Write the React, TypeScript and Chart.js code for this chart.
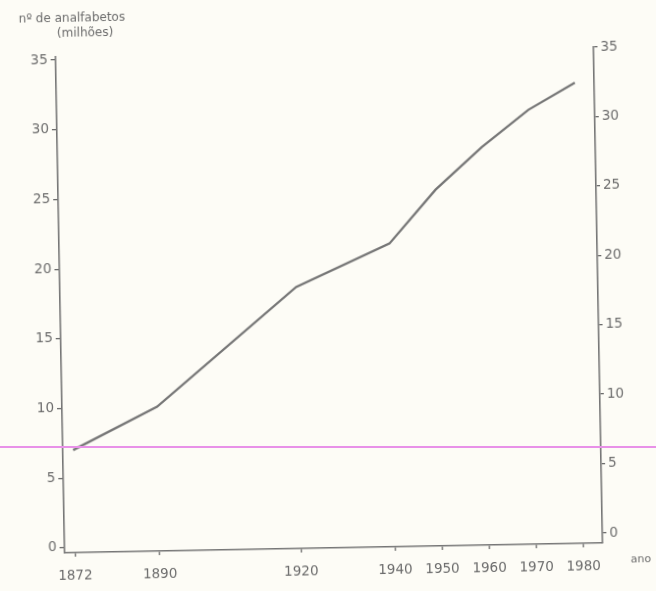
import { useEffect, useRef } from 'react';
import { Chart, registerables } from 'chart.js';

Chart.register(...registerables);

const years = [1872, 1890, 1920, 1940, 1950, 1960, 1970, 1980];
const illiterates = [7.0, 10.0, 18.4, 21.4, 25.2, 28.2, 30.8, 32.7];
const yTicks = [0, 5, 10, 15, 20, 25, 30, 35];
const titleLines = ['nº de analfabetos', '(milhões)'];
const xAxisName = 'ano';

const ink = '#6c6c6c';
const lineInk = '#767676';
const tickFont = { family: '"DejaVu Sans", sans-serif', size: 13.5 };

const textPlugin = {
  id: 'scanText',
  afterDraw(chart: any) {
    const ctx = chart.ctx;
    ctx.save();
    ctx.fillStyle = ink;
    ctx.textAlign = 'center';
    ctx.textBaseline = 'middle';
    ctx.font = '12px "DejaVu Sans", sans-serif';
    ctx.fillText(titleLines[0], 77, 14);
    ctx.fillText(titleLines[1], 90, 29);
    ctx.font = '11px "DejaVu Sans", sans-serif';
    ctx.fillText(xAxisName, 636, 565);
    ctx.restore();
  },
};

export default function App() {
  const ref = useRef<HTMLCanvasElement>(null);

  useEffect(() => {
    const setTicks = (list: number[]) => (s: any) => {
      s.ticks = list.map((v) => ({ value: v }));
    };
    const chart = new Chart(ref.current!, {
      type: 'line',
      data: {
        datasets: [
          {
            data: years.map((y, i) => ({ x: y, y: illiterates[i] })),
            borderColor: lineInk,
            borderWidth: 2.3,
            pointRadius: 0,
            tension: 0,
            yAxisID: 'y',
          },
        ],
      },
      options: {
        animation: false,
        responsive: true,
        maintainAspectRatio: false,
        layout: { padding: { top: 52, left: 0, right: 0, bottom: 0 } },
        plugins: {
          legend: { display: false },
          tooltip: { enabled: false },
          title: { display: false },
        },
        scales: {
          x: {
            type: 'linear',
            min: 1869.8,
            max: 1984.1,
            afterBuildTicks: setTicks(years),
            afterFit: (s: any) => {
              s.height = 43;
            },
            ticks: {
              callback: (v: any) => String(v),
              font: tickFont,
              color: ink,
              padding: 11,
              autoSkip: false,
              maxRotation: 0,
            },
            grid: { drawOnChartArea: false, tickLength: 4, color: ink, lineWidth: 1.3 },
            border: { color: lineInk, width: 1.6 },
          },
          y: {
            position: 'left',
            min: -0.36,
            max: 35.22,
            afterBuildTicks: setTicks(yTicks),
            afterFit: (s: any) => {
              s.width = 60;
            },
            ticks: { font: tickFont, color: ink, padding: 3, callback: (v: any) => String(v) },
            grid: { drawOnChartArea: false, tickLength: 5, color: ink, lineWidth: 1.3 },
            border: { color: lineInk, width: 1.6 },
          },
          y1: {
            position: 'right',
            min: -0.72,
            max: 35,
            afterBuildTicks: setTicks(yTicks),
            afterFit: (s: any) => {
              s.width = 58;
            },
            ticks: { font: tickFont, color: ink, padding: 3, callback: (v: any) => String(v) },
            grid: { drawOnChartArea: false, tickLength: 4, color: ink, lineWidth: 1.3 },
            border: { color: lineInk, width: 1.6 },
          },
        },
      },
      plugins: [textPlugin],
    } as any);
    return () => chart.destroy();
  }, []);

  return (
    <div
      style={{
        position: 'fixed',
        left: 0,
        top: 0,
        width: 656,
        height: 591,
        background: '#fdfcf6',
        overflow: 'hidden',
      }}
    >
      <div
        style={{
          position: 'absolute',
          left: 0,
          top: 0,
          width: 656,
          height: 591,
          transform: 'rotate(-1.05deg)',
        }}
      >
        <canvas ref={ref} />
      </div>
      <div
        style={{
          position: 'absolute',
          left: 0,
          top: 446,
          width: 656,
          height: 2,
          background: '#e891e8',
        }}
      />
    </div>
  );
}
